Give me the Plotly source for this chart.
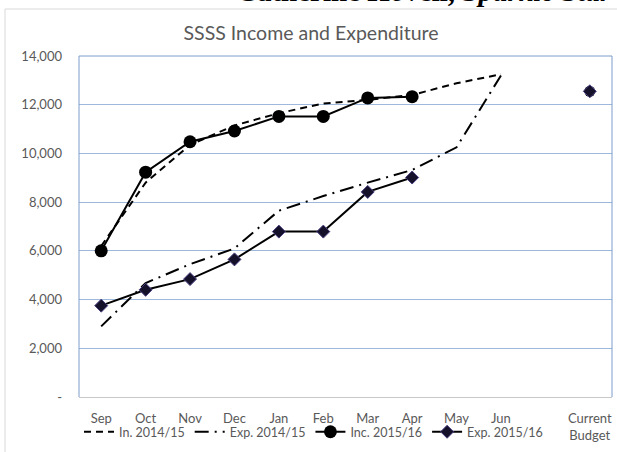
import plotly.graph_objects as go

categories = ["Sep", "Oct", "Nov", "Dec", "Jan", "Feb", "Mar", "Apr", "May", "Jun", " ", "Current<br>Budget"]
inc_1415 = [6200, 8800, 10350, 11150, 11650, 12050, 12200, 12400, 12880, 13250, None, None]
exp_1415 = [2900, 4680, 5450, 6100, 7650, 8250, 8800, 9320, 10250, 13200, None, None]
inc_1516 = [6000, 9230, 10480, 10920, 11520, 11520, 12280, 12330, None, None, None, 12550]
exp_1516 = [3750, 4400, 4840, 5650, 6790, 6790, 8420, 9010, None, None, None, 12550]
y_ticks = [0, 2000, 4000, 6000, 8000, 10000, 12000, 14000]
y_tick_labels = ["-", "2,000", "4,000", "6,000", "8,000", "10,000", "12,000", "14,000"]

FONT = "Lato"
GREY = "#595959"

fig = go.Figure()
fig.add_trace(go.Scatter(x=categories, y=inc_1415, name="In. 2014/15", mode="lines",
                         line=dict(color="black", width=2, dash="7px,5px")))
fig.add_trace(go.Scatter(x=categories, y=exp_1415, name="Exp. 2014/15", mode="lines",
                         line=dict(color="black", width=2, dash="14px,6px,2px,6px")))
fig.add_trace(go.Scatter(x=categories, y=inc_1516, name="Inc. 2015/16", mode="lines+markers",
                         line=dict(color="black", width=2),
                         marker=dict(symbol="circle", size=[13]*11 + [11], color="#000000",
                                     opacity=1, line=dict(width=0))))
fig.add_trace(go.Scatter(x=categories, y=exp_1516, name="Exp. 2015/16", mode="lines+markers",
                         line=dict(color="black", width=2),
                         marker=dict(symbol="diamond", size=10, color="#15112b",
                                     line=dict(color="#4a3f80", width=1))))

fig.update_layout(
    width=617, height=452,
    margin=dict(l=79, r=5, t=56, b=55, autoexpand=False),
    paper_bgcolor="white", plot_bgcolor="white",
    font=dict(family=FONT, size=13, color=GREY),
    title=dict(text="SSSS Income and Expenditure", x=311/617, xanchor="center", xref="container",
               y=1 - 33/452, yanchor="middle", font=dict(family=FONT, size=19.5, color=GREY)),
    showlegend=True,
    legend=dict(orientation="h", x=0.0, xanchor="left", y=-0.103, yanchor="middle",
                font=dict(family=FONT, size=12.5, color=GREY), itemwidth=30,
                bgcolor="rgba(0,0,0,0)", traceorder="normal"),
    xaxis=dict(type="category", categoryorder="array", categoryarray=categories,
               range=[-0.5, len(categories) - 0.5], automargin=False,
               showgrid=False, showline=True, linecolor="#c8c8c8", linewidth=1,
               ticks="", ticklabelstandoff=9, tickfont=dict(family=FONT, size=13, color=GREY),
               mirror=False, zeroline=False, fixedrange=True),
    yaxis=dict(range=[0, 14000], tickvals=y_ticks, ticktext=y_tick_labels, automargin=False,
               showgrid=True, gridcolor="#9db8da", gridwidth=1,
               showline=False, zeroline=False, ticks="", ticklabelstandoff=16,
               tickfont=dict(family=FONT, size=13, color=GREY), fixedrange=True),
    shapes=[
        dict(type="line", xref="paper", yref="paper", x0=0, x1=0, y0=0, y1=1,
             line=dict(color="#7a9ccb", width=1)),
        dict(type="line", xref="paper", yref="paper", x0=1, x1=1, y0=0, y1=1,
             line=dict(color="#7a9ccb", width=1)),
        dict(type="line", xref="paper", yref="paper", x0=0, x1=1, y0=1, y1=1,
             line=dict(color="#7a9ccb", width=1)),
        dict(type="rect", xref="paper", yref="paper",
             x0=(5 - 79) / 533, x1=(640 - 79) / 533,
             y0=(397 - 470) / 341, y1=(397 - 9) / 341,
             line=dict(color="#d9d9d9", width=1), fillcolor="rgba(0,0,0,0)", layer="below"),
    ],
    annotations=[
        dict(text="<b>Catherine Hovell, </b><b><i>Sparkle Star</i></b>", xref="paper", yref="paper",
             x=(614 - 79) / 533, xanchor="right", y=(397 - 9) / 341, yanchor="bottom",
             showarrow=False, font=dict(family="Liberation Serif", size=29, color="black")),
    ],
)

fig.write_html("out.html", config={"displayModeBar": False},
               post_script="document.body.style.margin='0';document.body.style.padding='0';")
